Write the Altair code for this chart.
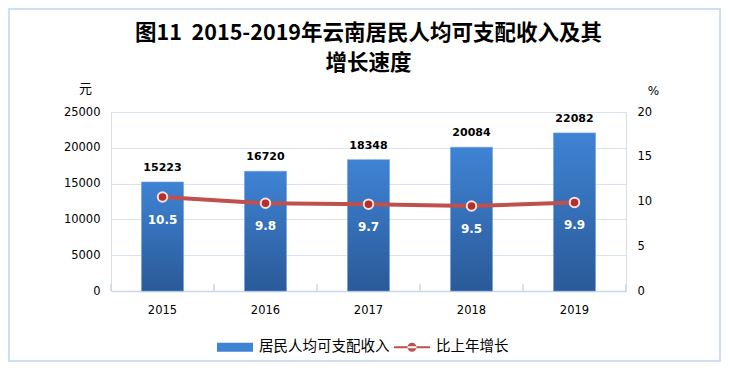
import altair as alt
import pandas as pd

years = ["2015", "2016", "2017", "2018", "2019"]
income = [15223, 16720, 18348, 20084, 22082]
growth = [10.5, 9.8, 9.7, 9.5, 9.9]
series = ["居民人均可支配收入", "比上年增长"]
title_lines = ["图11\u00a0\u00a02015-2019年云南居民人均可支配收入及其", "增长速度"]

df = pd.DataFrame({"year": years, "income": income, "growth": growth})

CJK = "Noto Sans CJK SC"
NUM = "DejaVu Sans"
BLUE_TOP = "#3f83d4"
BLUE_BOT = "#2a5a98"
RED = "#c0504d"
AXIS_C = "#c9d7ea"

x_scale = alt.Scale(paddingInner=0, paddingOuter=0)
x_axis = alt.Axis(title=None, labelAngle=0, labelPadding=13, labelFont=NUM,
                  labelFontSize=11.5, labelColor="#000", domain=True,
                  domainColor=AXIS_C, domainWidth=1.5, ticks=False)
x_enc = alt.X("year:N", scale=x_scale, axis=x_axis)

left_axis = alt.Axis(
    values=[0, 5000, 10000, 15000, 20000, 25000], format="d", title="元", titleAngle=0,
    titleX=-26, titleY=-24, titleAlign="center", titleBaseline="middle",
    titleFont=CJK, titleFontSize=13, titleFontWeight="normal", titleColor="#000",
    labelFont=NUM, labelFontSize=11.5, labelColor="#000", labelPadding=11,
    domain=False, ticks=False, grid=True, gridColor="#d9e3f0", gridWidth=1,
)
right_axis = alt.Axis(
    orient="right", values=[0, 5, 10, 15, 20], format="d", title="%", titleAngle=0,
    titleX=27, titleY=-22, titleAlign="center", titleBaseline="middle",
    titleFont=NUM, titleFontSize=12, titleFontWeight="normal", titleColor="#000",
    labelFont=NUM, labelFontSize=11.5, labelColor="#000", labelPadding=11,
    domain=False, ticks=False, grid=False,
)

y_left = alt.Y("income:Q", scale=alt.Scale(domain=[0, 25000]), axis=left_axis)
y_right = alt.Y("growth:Q", scale=alt.Scale(domain=[0, 20]), axis=right_axis)

base = alt.Chart(df).encode(x=x_enc)

# legend helper layer (hidden behind first bar)
leg_df = pd.DataFrame({"series": series})
rect_path = "M-1,-0.25H1V0.25H-1Z"
line_path = ("M-1,-0.06H1V0.06H-1Z M-0.25,0 A0.25,0.25 0 1,0 0.25,0 "
             "A0.25,0.25 0 1,0 -0.25,0 Z")
leg = alt.Legend(orient="none", legendX=106, legendY=217, direction="horizontal",
                 title=None, labelFont=CJK, labelFontSize=14.5, labelColor="#000",
                 symbolSize=1296, symbolStrokeWidth=0, labelOffset=6,
                 columnPadding=4, symbolOpacity=1)
legend_layer = alt.Chart(leg_df).mark_point(filled=True).encode(
    x=alt.value(52), y=alt.value(150),
    color=alt.Color("series:N", scale=alt.Scale(domain=series, range=[BLUE_TOP, RED]), legend=leg),
    shape=alt.Shape("series:N", scale=alt.Scale(domain=series, range=[rect_path, line_path]), legend=leg),
)

# inward category-boundary ticks on the x axis
ticks_start = base.mark_rule(color=AXIS_C, strokeWidth=1.5).encode(
    x=alt.X("year:N", bandPosition=0, scale=x_scale, axis=x_axis),
    y=alt.value(172), y2=alt.value(179))
ticks_end = base.transform_filter(alt.datum.year == years[-1]).mark_rule(
    color=AXIS_C, strokeWidth=1.5).encode(
    x=alt.X("year:N", bandPosition=1, scale=x_scale, axis=x_axis),
    y=alt.value(172), y2=alt.value(179))

bars = base.mark_bar(
    size=42,
    color=alt.Gradient(gradient="linear", x1=0, x2=0, y1=0, y2=1,
                       stops=[alt.GradientStop(color=BLUE_TOP, offset=0),
                              alt.GradientStop(color=BLUE_BOT, offset=1)]),
    stroke="#6a9ee0", strokeWidth=1, strokeOpacity=0.6,
).encode(y=y_left)

bar_text = base.mark_text(dy=-9, baseline="bottom", font=NUM, fontWeight="bold",
                          fontSize=11, color="#000").encode(
    y=y_left, text=alt.Text("income:Q", format="d"))

left = alt.layer(legend_layer, ticks_start, ticks_end, bars, bar_text)

line = base.mark_line(color=RED, strokeWidth=4).encode(y=y_right)
points = base.mark_circle(size=90, color="#b62e2b", stroke="#f3e0dc",
                          strokeWidth=2, opacity=1).encode(y=y_right)
g_text = base.mark_text(dy=23, color="white", font=NUM, fontWeight="bold",
                        fontSize=12).encode(
    y=y_right, text=alt.Text("growth:Q", format=".1f"))

right = alt.layer(line, points, g_text)

border = alt.Chart(pd.DataFrame({"a": [0]})).mark_rect(
    fillOpacity=0, stroke="#cddff2", strokeWidth=2).encode(
    x=alt.value(-102), x2=alt.value(609), y=alt.value(-103), y2=alt.value(249))

chart = alt.layer(border, left, right).resolve_scale(y="independent").properties(
    width=515, height=179,
    title=alt.TitleParams(text=title_lines, anchor="middle", font=CJK, fontSize=21.5,
                          fontWeight="bold", lineHeight=30, color="#000", offset=-66),
    autosize=alt.AutoSizeParams(type="none"),
    padding={"left": 103, "top": 104, "right": 96, "bottom": 72},
).configure_view(stroke=None).configure(background="white")

chart.save("out.html", embed_options={"renderer": "svg", "actions": False})
